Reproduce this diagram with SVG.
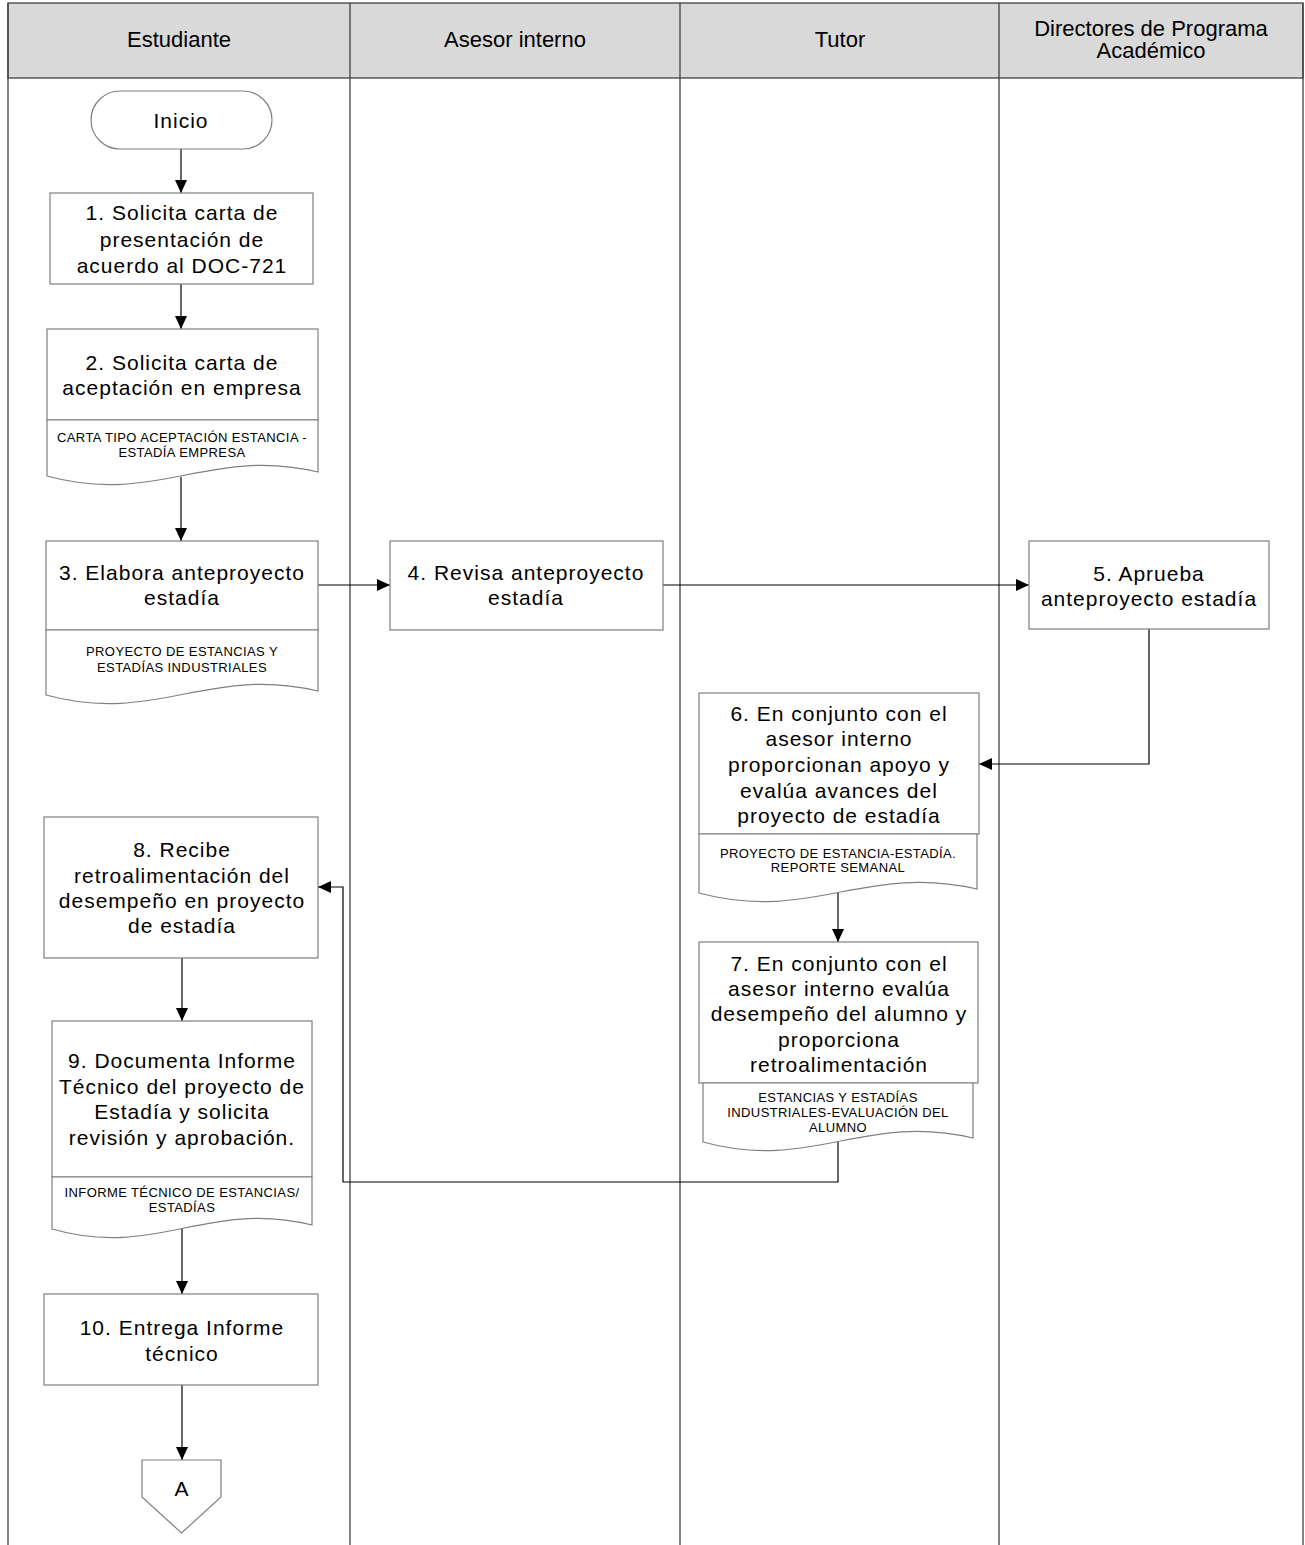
<svg xmlns="http://www.w3.org/2000/svg" width="1305" height="1545" viewBox="0 0 1305 1545">
<style>
.lane{fill:none;stroke:#404040;stroke-width:1.3}
.hdr{fill:#d9d9d9;stroke:#404040;stroke-width:1.3}
.ht{font-family:"Liberation Sans",Arial,sans-serif;font-size:22px;fill:#000;text-anchor:middle;dominant-baseline:central}
.box{fill:#fff;stroke:#7f7f7f;stroke-width:1.2}
.t{font-family:"Liberation Sans",Arial,sans-serif;font-size:21px;letter-spacing:1px;fill:#000;text-anchor:middle;dominant-baseline:central}
.d{font-family:"Liberation Sans",Arial,sans-serif;font-size:13px;letter-spacing:0.4px;fill:#000;text-anchor:middle;dominant-baseline:central}
.c{fill:none;stroke:#000;stroke-width:1.2}
</style>
<defs>
<marker id="ah" markerUnits="userSpaceOnUse" markerWidth="13" markerHeight="12" refX="13" refY="6" orient="auto">
<path d="M0,0 L13,6 L0,12 Z" fill="#000"/>
</marker>
</defs>
<rect width="1305" height="1545" fill="#fff"/>
<g id="lanes">
<rect class="hdr" x="8" y="3" width="1295" height="75"/>
<line class="lane" x1="8" y1="3" x2="8" y2="1545"/>
<line class="lane" x1="350" y1="3" x2="350" y2="1545"/>
<line class="lane" x1="680" y1="3" x2="680" y2="1545"/>
<line class="lane" x1="999" y1="3" x2="999" y2="1545"/>
<line class="lane" x1="1303" y1="3" x2="1303" y2="1545"/>
<text class="ht" x="179" y="39">Estudiante</text>
<text class="ht" x="515" y="39">Asesor interno</text>
<text class="ht" x="840" y="39">Tutor</text>
<text class="ht" x="1151" y="28">Directores de Programa</text>
<text class="ht" x="1151" y="50">Académico</text>
</g>
<g id="connectors">
<path class="c" d="M181,149 V193" marker-end="url(#ah)"/>
<path class="c" d="M181,284 V329" marker-end="url(#ah)"/>
<path class="c" d="M181,477 V541" marker-end="url(#ah)"/>
<path class="c" d="M318,585 H390" marker-end="url(#ah)"/>
<path class="c" d="M663,585 H1029" marker-end="url(#ah)"/>
<path class="c" d="M1149,629 V764 H979" marker-end="url(#ah)"/>
<path class="c" d="M838,893 V942" marker-end="url(#ah)"/>
<path class="c" d="M838,1142 V1182 H343 V887 H318" marker-end="url(#ah)"/>
<path class="c" d="M182,958 V1021" marker-end="url(#ah)"/>
<path class="c" d="M182,1229 V1294" marker-end="url(#ah)"/>
<path class="c" d="M182,1385 V1460" marker-end="url(#ah)"/>
</g>
<g id="inicio">
<rect class="box" x="91" y="91" width="181" height="58" rx="29" ry="29"/>
<text class="t" x="181" y="120">Inicio</text>
</g>
<g id="n1">
<rect class="box" x="50" y="193" width="263" height="91"/>
<text class="t" x="182" y="212">1. Solicita carta de</text>
<text class="t" x="182" y="239">presentación de</text>
<text class="t" x="182" y="265">acuerdo al DOC-721</text>
</g>
<g id="n2">
<rect class="box" x="47" y="329" width="271" height="91"/>
<text class="t" x="182" y="362">2. Solicita carta de</text>
<text class="t" x="182" y="387">aceptación en empresa</text>
<path class="box" d="M47,420 H318 V472 C210,446 156,506 47,476 Z"/>
<text class="d" x="182" y="437">CARTA TIPO ACEPTACIÓN ESTANCIA -</text>
<text class="d" x="182" y="452">ESTADÍA EMPRESA</text>
</g>
<g id="n3">
<rect class="box" x="46" y="541" width="272" height="89"/>
<text class="t" x="182" y="572">3. Elabora anteproyecto</text>
<text class="t" x="182" y="597">estadía</text>
<path class="box" d="M46,630 H318 V691 C209,665 155,725 46,695 Z"/>
<text class="d" x="182" y="651">PROYECTO DE ESTANCIAS Y</text>
<text class="d" x="182" y="667">ESTADÍAS INDUSTRIALES</text>
</g>
<g id="n4">
<rect class="box" x="390" y="541" width="273" height="89"/>
<text class="t" x="526" y="572">4. Revisa anteproyecto</text>
<text class="t" x="526" y="597">estadía</text>
</g>
<g id="n5">
<rect class="box" x="1029" y="541" width="240" height="88"/>
<text class="t" x="1149" y="573">5. Aprueba</text>
<text class="t" x="1149" y="598">anteproyecto estadía</text>
</g>
<g id="n6">
<rect class="box" x="699" y="693" width="280" height="141"/>
<text class="t" x="839" y="713">6. En conjunto con el</text>
<text class="t" x="839" y="738">asesor interno</text>
<text class="t" x="839" y="764">proporcionan apoyo y</text>
<text class="t" x="839" y="790">evalúa avances del</text>
<text class="t" x="839" y="815">proyecto de estadía</text>
<path class="box" d="M699,834 H977 V889 C866,863 810,923 699,893 Z"/>
<text class="d" x="838" y="853">PROYECTO DE ESTANCIA-ESTADÍA.</text>
<text class="d" x="838" y="867">REPORTE SEMANAL</text>
</g>
<g id="n7">
<rect class="box" x="699" y="942" width="279" height="141"/>
<text class="t" x="839" y="963">7. En conjunto con el</text>
<text class="t" x="839" y="988">asesor interno evalúa</text>
<text class="t" x="839" y="1013">desempeño del alumno y</text>
<text class="t" x="839" y="1039">proporciona</text>
<text class="t" x="839" y="1064">retroalimentación</text>
<path class="box" d="M703,1083 H973 V1138 C865,1112 811,1172 703,1142 Z"/>
<text class="d" x="838" y="1097">ESTANCIAS Y ESTADÍAS</text>
<text class="d" x="838" y="1112">INDUSTRIALES-EVALUACIÓN DEL</text>
<text class="d" x="838" y="1127">ALUMNO</text>
</g>
<g id="n8">
<rect class="box" x="44" y="817" width="274" height="141"/>
<text class="t" x="182" y="849">8. Recibe</text>
<text class="t" x="182" y="875">retroalimentación del</text>
<text class="t" x="182" y="900">desempeño en proyecto</text>
<text class="t" x="182" y="925">de estadía</text>
</g>
<g id="n9">
<rect class="box" x="52" y="1021" width="260" height="156"/>
<text class="t" x="182" y="1060">9. Documenta Informe</text>
<text class="t" x="182" y="1086">Técnico del proyecto de</text>
<text class="t" x="182" y="1111">Estadía y solicita</text>
<text class="t" x="182" y="1137">revisión y aprobación.</text>
<path class="box" d="M52,1177 H312 V1225 C208,1199 156,1259 52,1229 Z"/>
<text class="d" x="182" y="1192">INFORME TÉCNICO DE ESTANCIAS/</text>
<text class="d" x="182" y="1207">ESTADÍAS</text>
</g>
<g id="n10">
<rect class="box" x="44" y="1294" width="274" height="91"/>
<text class="t" x="182" y="1327">10. Entrega Informe</text>
<text class="t" x="182" y="1353">técnico</text>
</g>
<g id="offpageA">
<polygon class="box" points="142,1460 221,1460 221,1497 181.5,1533 142,1497"/>
<text class="t" x="182" y="1488">A</text>
</g>
</svg>
